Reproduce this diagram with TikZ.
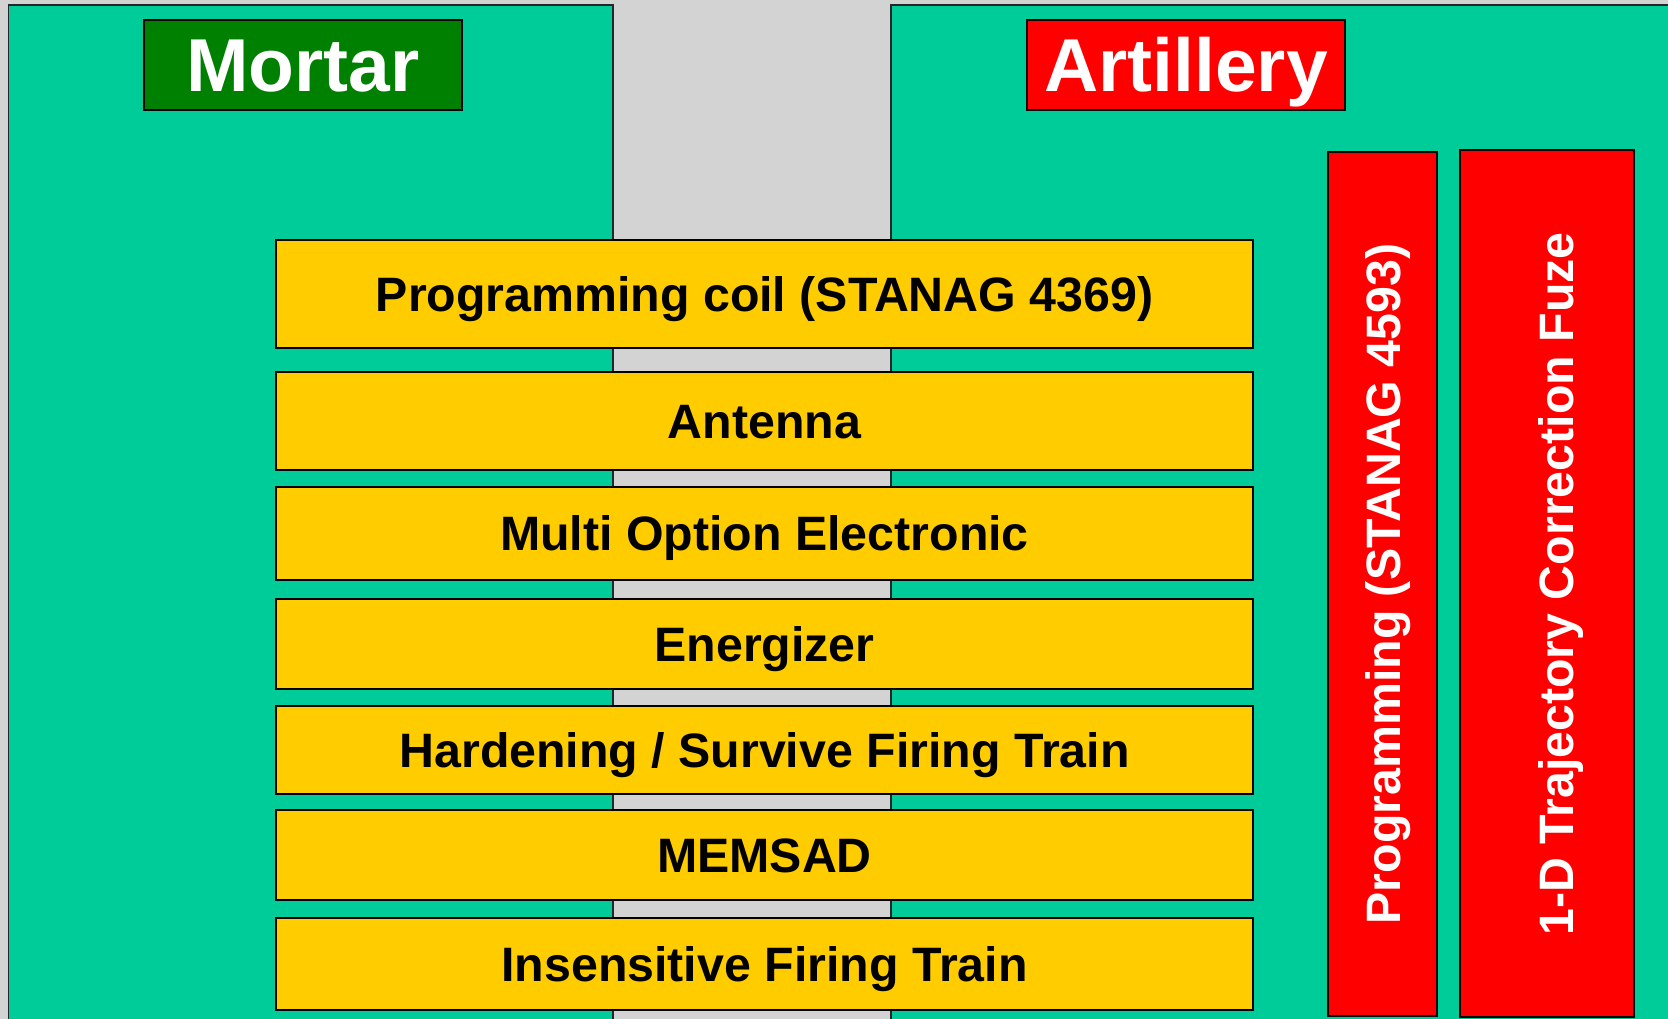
\documentclass[tikz,border=0pt]{standalone}
\usepackage{fontspec}
\setmainfont{Liberation Sans}
\usetikzlibrary{positioning}

\definecolor{panelgreen}{RGB}{0,204,153}
\definecolor{bargold}{RGB}{255,204,0}
\definecolor{backgray}{RGB}{211,211,211}
\definecolor{mortargreen}{RGB}{0,128,0}

\begin{document}
\begin{tikzpicture}[
    x=1pt, y=-1pt, %% one unit per pixel, y runs downwards
    sidepanel/.style={
        fill=panelgreen,
        draw=black!85,
        line width=1.5pt
    },
    titlebox/.style={
        rectangle,
        draw=black,
        line width=2pt,
        text=white,
        font=\bfseries\fontsize{75}{90}\selectfont,
        minimum width=318pt,
        minimum height=90pt,
        inner sep=0pt,
        text height=54pt,
        text depth=0pt
    },
    layerbar/.style={
        rectangle,
        draw=black,
        line width=2pt,
        fill=bargold,
        font=\bfseries\fontsize{48.3}{58}\selectfont,
        minimum width=977pt,
        inner sep=0pt,
        text height=34.5pt,
        text depth=0pt
    },
    redcolumn/.style={
        rectangle,
        draw=black,
        line width=2.5pt,
        fill=red,
        inner sep=0pt
    },
    vlabel/.style={
        rotate=90,
        text=white,
        font=\bfseries\fontsize{48.3}{58}\selectfont,
        inner sep=0pt,
        text height=34.5pt,
        text depth=0pt
    }
]

\useasboundingbox (0,0) rectangle (1668,1019);
\fill[backgray] (0,0) rectangle (1668,1019);

%% Mortar and artillery panels
\draw[sidepanel] (8.5,5) rectangle (613,1040);
\draw[sidepanel] (891,5) rectangle (1690,1040);

\node[titlebox, fill=mortargreen] (mortar) at (303,65) {Mortar};
\node[titlebox, fill=red] (artillery) at (1186,65) {Artillery};

%% Shared fuze layers
\node[layerbar, minimum height=108pt] (prog_coil) at (764.5,294) {Programming coil (STANAG 4369)};
\node[layerbar, minimum height=98pt] (antenna) at (764.5,421) {Antenna};
\node[layerbar, minimum height=93pt] (electronic) at (764.5,533.5) {Multi Option Electronic};
\node[layerbar, minimum height=90pt] (energizer) at (764.5,644) {Energizer};
\node[layerbar, minimum height=88pt] (hardening) at (764.5,750) {Hardening / Survive Firing Train};
\node[layerbar, minimum height=90pt] (memsad) at (764.5,855) {MEMSAD};
\node[layerbar, minimum height=92pt] (firing_train) at (764.5,964) {Insensitive Firing Train};

%% Artillery only columns
\node[redcolumn, minimum width=109pt, minimum height=864pt] (prog_col) at (1382.5,584) {};
\node[redcolumn, minimum width=174pt, minimum height=867pt] (fuze_col) at (1547,583.5) {};

\node[vlabel] (prog_text) at (1383.5,584) {Programming (STANAG 4593)};
\node[vlabel] (fuze_text) at (1556,584) {1-D Trajectory Correction Fuze};

\end{tikzpicture}
\end{document}
